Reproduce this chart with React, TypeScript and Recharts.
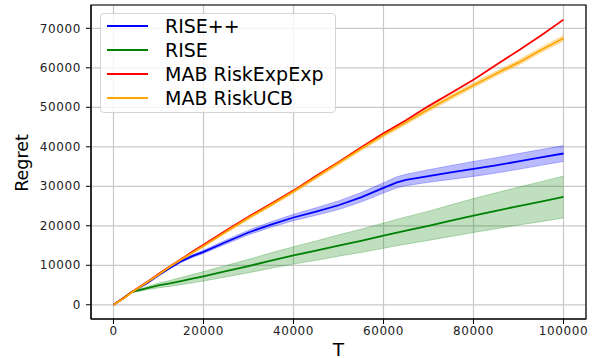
import React from 'react';
import {
  ComposedChart,
  Line,
  Area,
  XAxis,
  YAxis,
  CartesianGrid,
  Legend,
  ReferenceArea,
} from 'recharts';

// Horizon T at which the cumulative regret was recorded
const T_VALUES = [
  0, 2500, 4000, 7500, 10000, 12500, 15000, 17500, 20000, 25000, 30000, 35000, 40000,
  45000, 50000, 55000, 60000, 63000, 65000, 70000, 75000, 80000, 85000, 90000, 95000, 100000,
];

// RISE++ mean regret and its confidence band
const RISE_PP_MEAN = [
  0, 1900, 3200, 5500, 7500, 9300, 11000, 12300, 13400, 15900, 18300, 20300, 22100,
  23600, 25200, 27200, 29600, 31000, 31600, 32600, 33500, 34400, 35300, 36300, 37300, 38300,
];
const RISE_PP_LOW = [
  0, 1850, 3120, 5350, 7300, 9050, 10700, 11950, 13000, 15400, 17700, 19600, 21300,
  22650, 24100, 26000, 28300, 29600, 30150, 31000, 31750, 32500, 33350, 34300, 35300, 36300,
];
const RISE_PP_HIGH = [
  0, 1950, 3280, 5650, 7700, 9550, 11300, 12650, 13800, 16400, 18900, 21000, 22900,
  24550, 26300, 28400, 30900, 32400, 33050, 34200, 35250, 36300, 37250, 38300, 39300, 40300,
];

// RISE mean regret and its confidence band
const RISE_MEAN = [
  0, 1900, 3200, 4200, 4900, 5400, 6000, 6600, 7200, 8500, 9800, 11200, 12500,
  13700, 15000, 16200, 17500, 18300, 18800, 20000, 21300, 22600, 23800, 25000, 26100, 27300,
];
const RISE_LOW = [
  0, 1900, 3100, 3800, 4300, 4650, 5100, 5550, 6000, 7050, 8100, 9250, 10300,
  11250, 12300, 13250, 14300, 14950, 15350, 16300, 17300, 18300, 19250, 20200, 21050, 22000,
];
const RISE_HIGH = [
  0, 1900, 3300, 4600, 5500, 6150, 6900, 7650, 8400, 9950, 11500, 13150, 14700,
  16150, 17700, 19150, 20700, 21650, 22250, 23700, 25300, 26900, 28350, 29800, 31150, 32600,
];

// MAB RiskExpExp mean regret
const RISK_EXPEXP_MEAN = [
  0, 1900, 3200, 5800, 7800, 9700, 11500, 13400, 15200, 18800, 22300, 25600, 28900,
  32600, 36100, 39800, 43400, 45400, 46700, 50300, 53600, 57000, 60700, 64400, 68200, 72200,
];

// MAB RiskUCB mean regret and its confidence band
const RISK_UCB_MEAN = [
  0, 1800, 3100, 5700, 7600, 9600, 11400, 13200, 14900, 18500, 22000, 25300, 28700,
  32300, 35900, 39500, 43000, 44900, 46200, 49500, 52600, 55600, 58500, 61300, 64500, 67500,
];
const RISK_UCB_LOW = [
  0, 1700, 2950, 5500, 7350, 9350, 11100, 12900, 14600, 18150, 21600, 24900, 28250,
  31850, 35400, 39000, 42500, 44350, 45650, 48950, 52000, 55000, 57900, 60650, 63850, 66800,
];
const RISK_UCB_HIGH = [
  0, 1900, 3250, 5900, 7850, 9850, 11700, 13500, 15200, 18850, 22400, 25700, 29150,
  32750, 36400, 40000, 43500, 45450, 46750, 50050, 53200, 56200, 59100, 61950, 65150, 68200,
];

const X_TICKS = [0, 20000, 40000, 60000, 80000, 100000];
const Y_TICKS = [0, 10000, 20000, 30000, 40000, 50000, 60000, 70000];
const X_DOMAIN: [number, number] = [-5000, 105000];
const Y_DOMAIN: [number, number] = [-3600, 75900];

const SERIES = [
  { name: 'RISE++', color: '#0000ff' },
  { name: 'RISE', color: '#008000' },
  { name: 'MAB RiskExpExp', color: '#ff0000' },
  { name: 'MAB RiskUCB', color: '#ffa500' },
];

const data = T_VALUES.map((t, i) => ({
  t,
  risePP: RISE_PP_MEAN[i],
  risePPBand: [RISE_PP_LOW[i], RISE_PP_HIGH[i]],
  rise: RISE_MEAN[i],
  riseBand: [RISE_LOW[i], RISE_HIGH[i]],
  riskExpExp: RISK_EXPEXP_MEAN[i],
  riskUCB: RISK_UCB_MEAN[i],
  riskUCBBand: [RISK_UCB_LOW[i], RISK_UCB_HIGH[i]],
}));

const FONT = '"DejaVu Sans", Verdana, sans-serif';

const XTick = (props: any) => {
  const { x, y, payload } = props;
  return (
    <text x={x} y={y + 8.6} textAnchor="middle" fontFamily={FONT} fontSize={12} letterSpacing={0.6} fill="#222">
      {payload.value}
    </text>
  );
};

const YTick = (props: any) => {
  const { x, y, payload } = props;
  return (
    <text x={x} y={y + 4.2} textAnchor="end" fontFamily={FONT} fontSize={12} letterSpacing={0.6} fill="#222">
      {payload.value}
    </text>
  );
};

const XLabel = (props: any) => {
  const vb = props.viewBox || { x: 91, y: 319, width: 495, height: 39 };
  return (
    <text x={vb.x + vb.width / 2} y={vb.y + 36.5} textAnchor="middle" fontFamily={FONT} fontSize={18.5} fill="#000">
      T
    </text>
  );
};

const YLabel = (props: any) => {
  const vb = props.viewBox || { x: 0, y: 5, width: 91, height: 314 };
  const cx = 27.5;
  const cy = vb.y + vb.height / 2 + 1;
  return (
    <text
      x={cx}
      y={cy}
      transform={`rotate(-90, ${cx}, ${cy})`}
      textAnchor="middle"
      fontFamily={FONT}
      fontSize={17.5}
      fill="#000"
    >
      Regret
    </text>
  );
};

const LegendBox = () => (
  <div
    style={{
      boxSizing: 'border-box',
      width: 236,
      height: 100,
      border: '1px solid #d4d4d4',
      borderRadius: 4,
      background: 'rgba(255,255,255,0.8)',
      fontFamily: FONT,
      fontSize: 19,
      color: '#000',
    }}
  >
    {SERIES.map((s) => (
      <div key={s.name} style={{ display: 'flex', alignItems: 'center', height: 24 }}>
        <span
          style={{
            display: 'inline-block',
            width: 41,
            height: 2,
            background: s.color,
            marginLeft: 6,
            marginRight: 17,
          }}
        />
        <span style={{ lineHeight: '24px', whiteSpace: 'nowrap' }}>{s.name}</span>
      </div>
    ))}
  </div>
);

export default function App() {
  return (
    <div style={{ position: 'absolute', left: 0, top: 0, width: 596, height: 358, background: '#fff' }}>
      <ComposedChart
        width={596}
        height={358}
        data={data}
        margin={{ top: 5, right: 10, bottom: 0, left: 0 }}
      >
        <CartesianGrid stroke="#c8c8c8" strokeWidth={1.2} />
        <XAxis
          dataKey="t"
          type="number"
          domain={X_DOMAIN}
          ticks={X_TICKS}
          interval={0}
          height={39}
          tickSize={5}
          tickMargin={2}
          tick={<XTick />}
          tickLine={{ stroke: '#000' }}
          axisLine={{ stroke: '#000' }}
          label={<XLabel />}
        />
        <YAxis
          type="number"
          domain={Y_DOMAIN}
          ticks={Y_TICKS}
          interval={0}
          width={91}
          tickSize={5}
          tickMargin={5}
          tick={<YTick />}
          tickLine={{ stroke: '#000' }}
          axisLine={{ stroke: '#000' }}
          label={<YLabel />}
        />
        <Area
          type="linear"
          dataKey="risePPBand"
          stroke="#0000ff"
          strokeOpacity={0.25}
          fill="#0000ff"
          fillOpacity={0.27}
          isAnimationActive={false}
          activeDot={false}
          legendType="none"
        />
        <Line
          type="linear"
          dataKey="risePP"
          name="RISE++"
          stroke="#0000ff"
          strokeWidth={1.8}
          dot={false}
          isAnimationActive={false}
        />
        <Area
          type="linear"
          dataKey="riseBand"
          stroke="#008000"
          strokeOpacity={0.25}
          fill="#008000"
          fillOpacity={0.25}
          isAnimationActive={false}
          activeDot={false}
          legendType="none"
        />
        <Line
          type="linear"
          dataKey="rise"
          name="RISE"
          stroke="#008000"
          strokeWidth={1.8}
          dot={false}
          isAnimationActive={false}
        />
        <Line
          type="linear"
          dataKey="riskExpExp"
          name="MAB RiskExpExp"
          stroke="#ff0000"
          strokeWidth={1.8}
          dot={false}
          isAnimationActive={false}
        />
        <Area
          type="linear"
          dataKey="riskUCBBand"
          stroke="#ffa500"
          strokeOpacity={0.3}
          fill="#ffa500"
          fillOpacity={0.3}
          isAnimationActive={false}
          activeDot={false}
          legendType="none"
        />
        <Line
          type="linear"
          dataKey="riskUCB"
          name="MAB RiskUCB"
          stroke="#ffa500"
          strokeWidth={1.8}
          dot={false}
          isAnimationActive={false}
        />
        <ReferenceArea
          x1={X_DOMAIN[0]}
          x2={X_DOMAIN[1]}
          y1={Y_DOMAIN[0]}
          y2={Y_DOMAIN[1]}
          fill="none"
          stroke="#000"
          strokeWidth={1.2}
          ifOverflow="visible"
        />
        <Legend
          layout="vertical"
          align="center"
          verticalAlign="middle"
          content={<LegendBox />}
          wrapperStyle={{ left: 100, top: 13, width: 236, height: 100 }}
        />
      </ComposedChart>
    </div>
  );
}
